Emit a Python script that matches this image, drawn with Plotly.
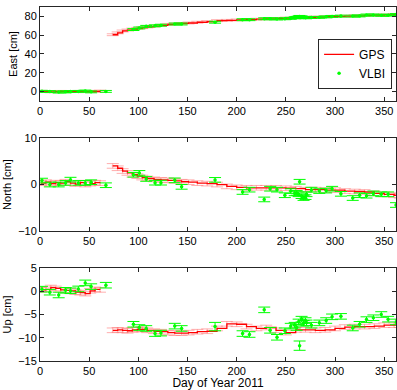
import plotly.graph_objects as go

# ---------------- data ----------------
gps_day = [1, 6, 11, 16, 21, 26, 31, 36, 41, 46, 51, 56, 61, None,
           74, 79, 84, 89, 94, 99, 104, 109, 116, 123, 130, 137, 144, 151,
           160, 170, 180, 190, 200, 210, 220, 230, 240, 250, 260, 270, 280,
           290, 300, 310, 320, 330, 340, 350, 360, 366]
gps_east = [0.3, 0.1, -0.2, 0.0, 0.2, -0.1, 0.1, 0.0, 0.2, -0.1, 0.1, 0.3, 0.5, None,
            60.5, 62.5, 64.5, 65.5, 66.5, 67.3, 68.0, 68.8, 69.7, 70.5, 71.5, 72.0, 72.5, 73.0,
            73.8, 74.5, 75.5, 75.8, 76.2, 76.6, 77.0, 77.4, 77.8, 78.2, 78.6, 79.0, 79.3,
            79.7, 80.0, 80.3, 80.6, 81.0, 81.3, 81.6, 82.0, 82.0]
gps_north = [0.3, 0.5, 0.2, 0.4, 0.3, 0.6, 0.3, 0.1, 0.4, 0.0, 0.2, 0.4, 0.3, None,
             4.0, 3.5, 2.9, 2.5, 2.1, 1.8, 1.5, 1.3, 1.1, 1.0, 0.9, 0.8, 0.6, 0.5,
             0.3, 0.2, 0.0, -0.4, -0.6, -0.7, -0.7, -0.7, -0.7, -0.8, -0.9, -1.1, -1.1,
             -1.2, -1.2, -1.4, -1.5, -1.6, -1.9, -2.1, -2.3, -2.4]
gps_up = [0.3, 0.4, 0.8, 0.6, 0.3, 0.2, 0.1, -0.2, -0.3, -0.5, 0.1, 0.4, 0.3, None,
          -8.4, -8.3, -8.4, -8.5, -8.3, -8.2, -8.2, -8.4, -8.6, -8.7, -8.9, -9.0, -9.0, -8.9,
          -8.7, -8.6, -8.0, -7.0, -7.1, -7.6, -8.0, -7.8, -8.4, -8.9, -8.3, -8.3, -8.4,
          -8.3, -8.0, -7.7, -7.6, -7.6, -7.5, -7.3, -7.3, -7.3]
gps_err_east = 1.0
gps_err_north = 0.5
gps_err_up = 0.5

vlbi_day = [2, 10, 19, 26, 31, 39, 46, 52, 67,
            95, 101, 108, 117, 123, 137, 144, 178, 206, 213, 228, 234, 241, 249,
            255, 259, 261, 263, 264, 266, 268, 270, 271, 276, 284, 291, 297, 306,
            318, 325, 332, 339, 347, 354, 362]
vlbi_east = [0.3, 0.0, -0.5, -0.3, 0.0, 0.2, 0.6, -0.3, 0.2,
             66.0, 67.7, 69.4, 70.0, 70.6, 71.9, 71.9, 73.8, 76.5, 76.5, 77.5, 77.5, 77.3, 77.5,
             78.0, 78.5, 79.0, 79.5, 80.0, 79.3, 78.8, 78.5, 79.0, 78.8, 79.0, 79.5, 80.0, 80.3,
             80.3, 80.5, 81.5, 81.5, 81.2, 81.3, 82.0]
vlbi_north = [0.85, 0.0, 0.0, 0.35, 1.05, 0.35, 0.35, 0.5, -0.15,
              2.1, 2.5, 1.2, 0.4, 0.4, 0.9, -0.5, 1.0, -1.6, -1.1, -3.2, -0.9, -1.1, -2.3,
              -1.4, -1.9, -1.8, -2.1, 0.6, -2.5, -2.9, -2.7, -2.1, -1.1, -1.4, -1.3, -0.9, -2.0,
              -2.9, -2.3, -2.4, -1.9, -2.1, -2.1, -4.4]
vlbi_up = [0.45, -0.2, -0.8, 0.2, 0.1, 0.5, 1.8, 1.0, 1.3,
           -7.1, -7.8, -8.0, -9.1, -9.0, -7.5, -8.0, -7.6, -9.1, -9.3, -4.0, -8.4, -9.9, -8.5,
           -7.5, -7.3, -7.8, -6.6, -11.7, -6.0, -6.9, -6.3, -6.8, -7.3, -6.8, -6.3, -5.5, -5.4,
           -7.9, -7.1, -6.1, -5.7, -5.0, -6.0, -6.6]
vlbi_err_east = 1.0
vlbi_err_north = 0.5
vlbi_err_up = [0.6, 0.6, 0.6, 0.6, 0.6, 0.6, 0.6, 0.6, 0.6,
               0.6, 0.6, 0.6, 0.6, 0.6, 0.6, 0.6, 0.9, 0.6, 0.6, 0.6, 0.6, 0.6, 0.6,
               0.6, 0.6, 0.6, 0.6, 1.0, 0.6, 0.6, 0.6, 0.6, 0.6, 0.6, 0.6, 0.6, 0.6,
               0.6, 0.6, 0.6, 0.6, 0.6, 0.6, 0.6]

x_ticks = [0, 50, 100, 150, 200, 250, 300, 350]
panels = [
    ("East [cm]", gps_east, gps_err_east, vlbi_east, vlbi_err_east, [-10, 90], [0, 20, 40, 60, 80]),
    ("North [cm]", gps_north, gps_err_north, vlbi_north, vlbi_err_north, [-10, 10], [-10, 0, 10]),
    ("Up [cm]", gps_up, gps_err_up, vlbi_up, vlbi_err_up, [-15, 5], [-15, -10, -5, 0, 5]),
]
domains = [[0.7345, 1.0], [0.367, 0.630], [0.0, 0.2627]]

GPS_COLOR = "rgb(255,0,0)"
GPS_ERR = "rgba(255,110,110,0.55)"
VLBI_COLOR = "rgb(0,255,0)"
FONT = "Liberation Sans, Arial, Helvetica, sans-serif"

fig = go.Figure()
layout = {}
for i, (title, gv, ge, vv, ve, yr, yt) in enumerate(panels):
    n = "" if i == 0 else str(i + 1)
    xa, ya = "x" + n, "y" + n
    arr_g = dict(type="data", array=ge if isinstance(ge, list) else [ge] * len(gps_day))
    arr_v = dict(type="data", array=ve if isinstance(ve, list) else [ve] * len(vlbi_day))
    fig.add_trace(go.Scatter(
        x=gps_day, y=gv, mode="lines", name="GPS", xaxis=xa, yaxis=ya,
        line=dict(color=GPS_COLOR, width=1.3, shape="hv"),
        error_y=dict(**arr_g, color=GPS_ERR, thickness=1, width=6),
        showlegend=(i == 0), connectgaps=False))
    fig.add_trace(go.Scatter(
        x=vlbi_day, y=vv, mode="markers", name="VLBI", xaxis=xa, yaxis=ya,
        marker=dict(color=VLBI_COLOR, size=3.5),
        error_y=dict(**arr_v, color=VLBI_COLOR, thickness=1, width=6),
        showlegend=(i == 0)))
    axis_common = dict(showline=True, linecolor="#262626", linewidth=1, mirror="ticks",
                       ticks="inside", ticklen=4, tickcolor="#262626", showgrid=False,
                       zeroline=False, tickfont=dict(family=FONT, size=11, color="black"))
    layout["xaxis" + n] = dict(domain=[0, 1], anchor=ya, range=[0, 362], tickvals=x_ticks,
                               **axis_common)
    layout["yaxis" + n] = dict(domain=domains[i], anchor=xa, range=yr, tickvals=yt,
                               title=dict(text=title, font=dict(family=FONT, size=11, color="black"),
                                          standoff=4),
                               **axis_common)

layout["xaxis3"]["title"] = dict(text="Day of Year 2011", font=dict(family=FONT, size=12, color="black"),
                                 standoff=0)

fig.update_layout(
    **layout,
    width=397, height=390,
    margin=dict(l=40, r=1, t=7, b=29),
    paper_bgcolor="white", plot_bgcolor="white",
    font=dict(family=FONT, size=11, color="black"),
    legend=dict(x=0.989, y=0.91, xanchor="right", yanchor="top",
                bordercolor="#262626", borderwidth=1, bgcolor="white",
                font=dict(family=FONT, size=12, color="black"),
                itemwidth=30, tracegroupgap=2),
)

fig.write_html("out.html", config={"displayModeBar": False},
               post_script="document.body.style.margin='0';")
